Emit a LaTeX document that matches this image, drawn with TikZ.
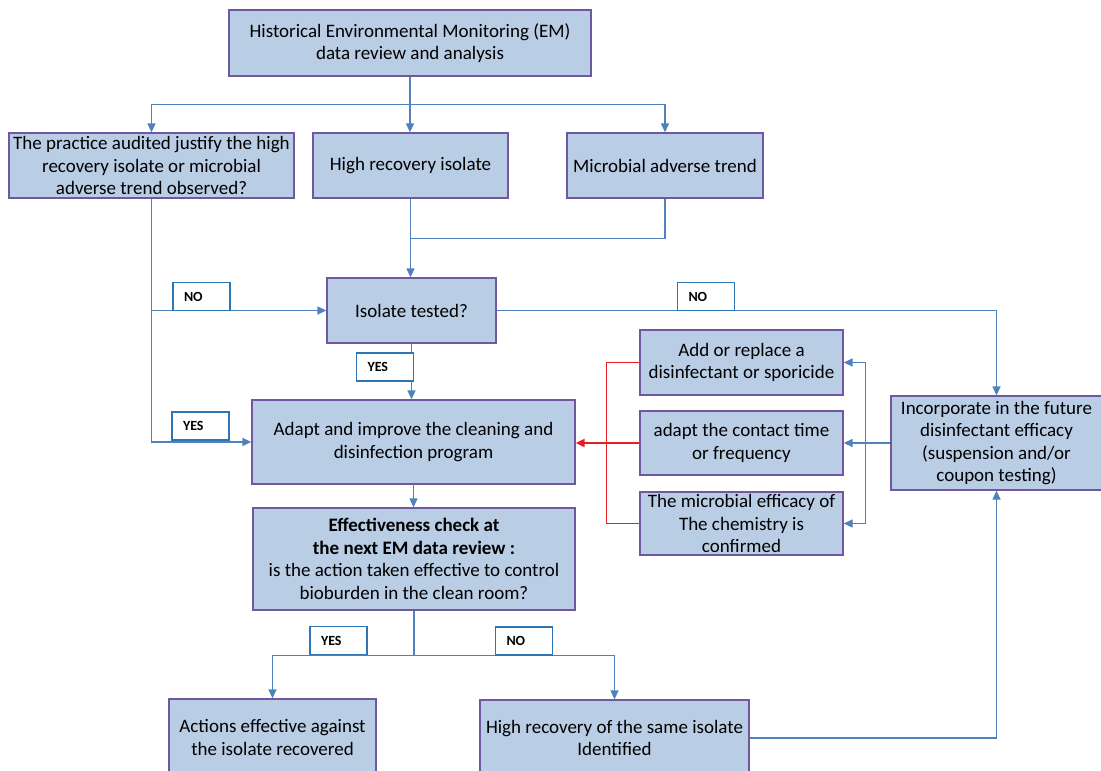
\documentclass[tikz,border=0pt]{standalone}
\usepackage{fontspec}
\setmainfont{Carlito}
\usetikzlibrary{arrows.meta}
\definecolor{boxfill}{RGB}{185,205,229}
\definecolor{boxline}{RGB}{112,88,160}
\definecolor{flow}{RGB}{79,129,189}
\definecolor{tagline}{RGB}{46,117,182}
\definecolor{back}{RGB}{232,30,37}
\begin{document}
\begin{tikzpicture}[x=1pt, y=-1pt, >={Triangle[length=9pt,width=8pt]}]
        \tikzstyle{box} = [draw=boxline, fill=boxfill, line width=1.3pt, align=center, inner sep=2pt, font=\fontsize{19}{22.5}\selectfont]
        \tikzstyle{tag} = [draw=tagline, fill=white, line width=1.4pt, minimum width=57pt, minimum height=28pt, text width=35pt, inner xsep=11pt, align=left, font=\fontsize{14}{16}\selectfont\bfseries]
        \tikzstyle{link} = [draw=flow, line width=1.3pt]
        \useasboundingbox (0,0) rectangle (1101,771);
        % boxes
        \node[box, minimum width=362pt, minimum height=66pt] (hist) at (410, 43) {Historical Environmental Monitoring (EM)\\data review and analysis};
        \node[box, minimum width=285pt, minimum height=65pt] (audit) at (151.5, 165.5) {The practice audited justify the high\\recovery isolate or microbial\\adverse trend observed?};
        \node[box, minimum width=195pt, minimum height=65pt] (high) at (410.5, 165.5) {High recovery isolate};
        \node[box, minimum width=196pt, minimum height=65pt] (trend) at (665, 165.5) {Microbial adverse trend};
        \node[box, minimum width=169pt, minimum height=65pt] (tested) at (411.5, 310.5) {Isolate tested?};
        \node[box, minimum width=323pt, minimum height=84pt] (adapt) at (413.5, 442) {Adapt and improve the cleaning and\\disinfection program};
        \node[box, minimum width=322pt, minimum height=102pt] (check) at (414, 559) {\textbf{Effectiveness check at}\\\textbf{the next EM data review :}\\is the action taken effective to control\\bioburden in the clean room?};
        \node[box, minimum width=207pt, minimum height=77pt] (effect) at (272.5, 737.5) {Actions effective against\\the isolate recovered};
        \node[box, minimum width=269pt, minimum height=76pt] (same) at (614.5, 738) {High recovery of the same isolate\\Identified};
        \node[box, minimum width=203pt, minimum height=65pt] (replace) at (741.5, 362.5) {Add or replace a\\disinfectant or sporicide};
        \node[box, minimum width=203pt, minimum height=64pt] (contact) at (741.5, 443) {adapt the contact time\\or frequency};
        \node[box, minimum width=203pt, minimum height=63pt] (chem) at (741.5, 523.5) {The microbial efficacy of\\The chemistry is\\confirmed};
        \node[box, minimum width=211pt, minimum height=94pt] (future) at (996.5, 443) {Incorporate in the future\\disinfectant efficacy\\(suspension and/or\\coupon testing)};
        % connectors
        \draw[link, ->] (hist.south) -- ++(0,28) -| (audit.north);
        \draw[link, ->] (hist.south) -- (hist.south |- high.north);
        \draw[link, ->] (hist.south) -- ++(0,28) -| (trend.north);
        \draw[link] (trend.south) -- ++(0,40) -| (high.south);
        \draw[link, ->] (high.south) -- (high.south |- tested.north);
        \draw[link, ->] (audit.south) |- (tested.west);
        \draw[link, ->] (audit.south) |- (adapt.west);
        \draw[link, ->] (tested.south) -- (tested.south |- adapt.north);
        \draw[link, ->] (tested.east) -| (future.north);
        \draw[link, ->] (future.west) -- ++(-25,0) |- (replace.east);
        \draw[link, ->] (future.west) -- (contact.east);
        \draw[link, ->] (future.west) -- ++(-25,0) |- (chem.east);
        \draw[back, line width=1.3pt] (replace.west) -- ++(-33,0) |- (chem.west);
        \draw[back, line width=2pt, ->] (contact.west) -- (contact.west -| adapt.east);
        \draw[link, ->] (adapt.south) -- (adapt.south |- check.north);
        \draw[link, ->] (check.south) -- ++(0,45) -| (effect.north);
        \draw[link, ->] (check.south) -- ++(0,45) -| (same.north);
        \draw[link, ->] (same.east) -| (future.south);
        % yes / no tags
        \node[tag] (no1) at (201.5, 296.5) {NO};
        \node[tag] (yes1) at (200.5, 426) {YES};
        \node[tag] (yes2) at (385, 367) {YES};
        \node[tag] (no2) at (706, 296.5) {NO};
        \node[tag] (yes3) at (338.5, 640.5) {YES};
        \node[tag] (no3) at (524, 641) {NO};
\end{tikzpicture}
\end{document}
